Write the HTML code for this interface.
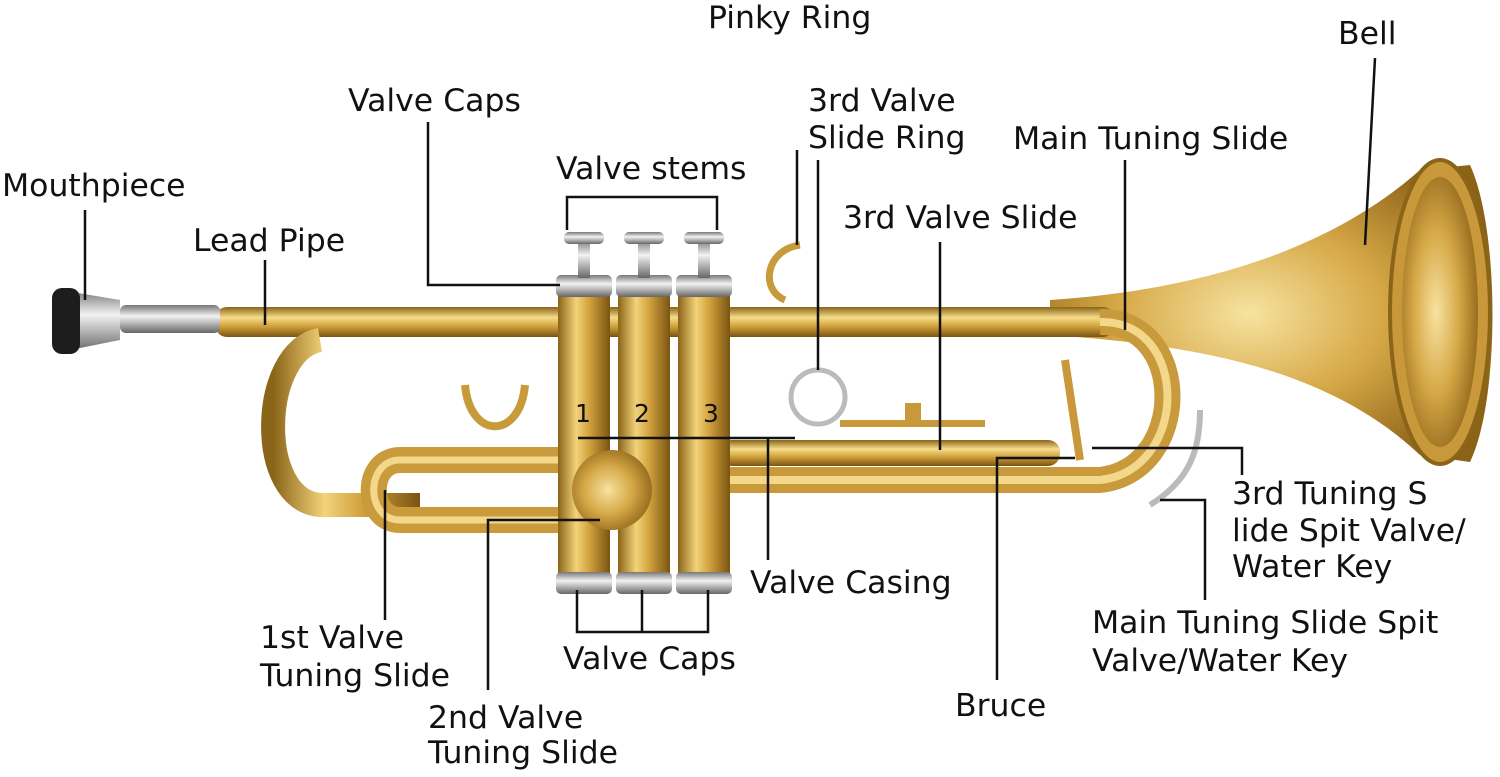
<!DOCTYPE html>
<html><head><meta charset="utf-8"><style>
html,body{margin:0;padding:0;background:#fff;}
svg{display:block}
text{font-family:"DejaVu Sans","Liberation Sans",sans-serif;font-size:31.5px;fill:#111;}
</style></head><body>
<svg width="1500" height="777" viewBox="0 0 1500 777" xmlns="http://www.w3.org/2000/svg">
<defs>
<linearGradient id="gv" x1="0" y1="0" x2="1" y2="0">
<stop offset="0" stop-color="#8a6418"/><stop offset="0.35" stop-color="#f3d37a"/><stop offset="0.6" stop-color="#d2a23e"/><stop offset="1" stop-color="#7a5412"/></linearGradient>
<linearGradient id="gh" x1="0" y1="0" x2="0" y2="1">
<stop offset="0" stop-color="#8a6418"/><stop offset="0.35" stop-color="#f6dc8a"/><stop offset="0.65" stop-color="#d0a03a"/><stop offset="1" stop-color="#7a5412"/></linearGradient>
<radialGradient id="gb" cx="0.45" cy="0.5" r="0.6">
<stop offset="0" stop-color="#f7e3a0"/><stop offset="0.5" stop-color="#d6a847"/><stop offset="1" stop-color="#8c6216"/></radialGradient>
<linearGradient id="gs" x1="0" y1="0" x2="0" y2="1">
<stop offset="0" stop-color="#777"/><stop offset="0.4" stop-color="#f2f2f2"/><stop offset="1" stop-color="#666"/></linearGradient>
</defs>
<path d="M1050 300 C1200 290 1330 250 1420 170 L1470 165 C1500 230 1500 400 1470 462 L1420 455 C1330 370 1200 345 1050 335 Z" fill="url(#gb)"/>
<ellipse cx="1440" cy="312" rx="50" ry="152" fill="#c9983a" stroke="#8a6418" stroke-width="4"/>
<ellipse cx="1440" cy="312" rx="38" ry="135" fill="url(#gb)"/>
<rect x="215" y="307" width="900" height="30" rx="12" fill="url(#gh)"/>
<rect x="120" y="305" width="100" height="28" rx="6" fill="url(#gs)"/>
<path d="M60 290 L120 300 L120 340 L60 352 Z" fill="url(#gs)"/>
<rect x="52" y="288" width="28" height="66" rx="10" fill="#1d1d1d"/>
<path d="M320 340 C260 350 255 500 320 505 L420 505" fill="none" stroke="url(#gv)" stroke-width="24"/>
<path d="M1100 322 C1190 320 1190 470 1100 480 L720 480" fill="none" stroke="#c89a3c" stroke-width="26"/>
<path d="M1100 322 C1190 320 1190 470 1100 480 L720 480" fill="none" stroke="#f3d78a" stroke-width="8"/>
<rect x="720" y="440" width="340" height="26" rx="12" fill="url(#gh)"/>
<path d="M560 460 L400 460 C365 460 365 520 400 520 L600 520" fill="none" stroke="#c99b3d" stroke-width="26"/>
<path d="M560 460 L400 460 C365 460 365 520 400 520 L600 520" fill="none" stroke="#f3d78a" stroke-width="7"/>
<path d="M465 385 C470 440 520 440 525 385" fill="none" stroke="#c79a3a" stroke-width="8"/>
<rect x="558" y="285" width="52" height="305" rx="6" fill="url(#gv)"/>
<rect x="618" y="285" width="52" height="305" rx="6" fill="url(#gv)"/>
<rect x="678" y="285" width="52" height="305" rx="6" fill="url(#gv)"/>
<rect x="556" y="275" width="56" height="22" rx="5" fill="url(#gs)"/>
<rect x="616" y="275" width="56" height="22" rx="5" fill="url(#gs)"/>
<rect x="676" y="275" width="56" height="22" rx="5" fill="url(#gs)"/>
<rect x="556" y="572" width="56" height="22" rx="5" fill="url(#gs)"/>
<rect x="616" y="572" width="56" height="22" rx="5" fill="url(#gs)"/>
<rect x="676" y="572" width="56" height="22" rx="5" fill="url(#gs)"/>
<g fill="url(#gs)">
<rect x="578" y="240" width="12" height="38"/><rect x="638" y="240" width="12" height="38"/><rect x="698" y="240" width="12" height="38"/>
<rect x="564" y="232" width="40" height="12" rx="5"/><rect x="624" y="232" width="40" height="12" rx="5"/><rect x="684" y="232" width="40" height="12" rx="5"/>
</g>
<ellipse cx="612" cy="490" rx="40" ry="40" fill="url(#gb)"/>
<path d="M800 245 C765 250 760 290 785 300" fill="none" stroke="#c79a3a" stroke-width="7"/>
<circle cx="818" cy="397" r="27" fill="none" stroke="#bbb" stroke-width="5"/>
<rect x="840" y="420" width="145" height="7" fill="#c9983a"/>
<rect x="905" y="403" width="16" height="22" fill="#c9983a"/>
<line x1="1065" y1="360" x2="1080" y2="460" stroke="#c9983a" stroke-width="8"/>
<path d="M1200 410 C1200 450 1190 480 1150 505" fill="none" stroke="#bbb" stroke-width="6"/>
<text x="575" y="422" style="font-size:25px">1</text><text x="634" y="422" style="font-size:25px">2</text><text x="703" y="422" style="font-size:25px">3</text>
<g stroke="#111" stroke-width="2.5" fill="none">
<path d="M85 210 V300"/>
<path d="M265 260 V325"/>
<path d="M428 122 V285 H560"/>
<path d="M567 230 V197 H717 V230"/>
<path d="M797 150 V245"/>
<path d="M818 160 V370"/>
<path d="M1125 160 V330"/>
<path d="M1375 58 L1365 245"/>
<path d="M940 242 V450"/>
<path d="M578 438 H795 M768 438 V560"/>
<path d="M385 490 V620"/>
<path d="M600 520 H488 V690"/>
<path d="M577 590 V632 H708 V590 M642 590 V632"/>
<path d="M1075 458 H997 V680"/>
<path d="M1092 448 H1242 V475"/>
<path d="M1160 500 H1205 V600"/>
</g>
<text x="708" y="28">Pinky Ring</text>
<text x="1338" y="44">Bell</text>
<text x="348" y="111">Valve Caps</text>
<text x="808" y="111">3rd Valve</text>
<text x="808" y="148">Slide Ring</text>
<text x="1013" y="149">Main Tuning Slide</text>
<text x="556" y="179">Valve stems</text>
<text x="2" y="196">Mouthpiece</text>
<text x="843" y="228">3rd Valve Slide</text>
<text x="193" y="251">Lead Pipe</text>
<text x="1232" y="504">3rd Tuning S</text>
<text x="1232" y="541">lide Spit Valve/</text>
<text x="1232" y="577">Water Key</text>
<text x="750" y="593">Valve Casing</text>
<text x="1092" y="633">Main Tuning Slide Spit</text>
<text x="1092" y="671">Valve/Water Key</text>
<text x="260" y="648">1st Valve</text>
<text x="260" y="686">Tuning Slide</text>
<text x="563" y="669">Valve Caps</text>
<text x="955" y="716">Bruce</text>
<text x="428" y="728">2nd Valve</text>
<text x="428" y="763">Tuning Slide</text>
</svg>
</body></html>
